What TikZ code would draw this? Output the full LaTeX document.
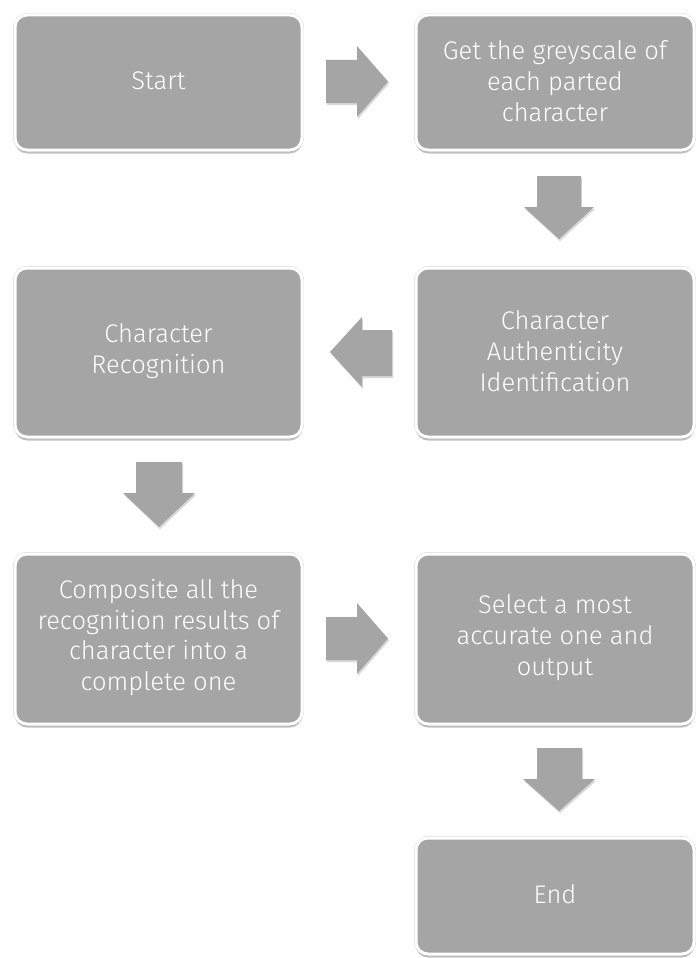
\documentclass[tikz,border=0pt]{standalone}
\usepackage{fontspec}
\setmainfont{Fira Sans Light}
\usetikzlibrary{shadows}
\definecolor{boxgray}{HTML}{A5A5A5}
\definecolor{rimgray}{HTML}{D9D9D9}
\tikzset{
  stepbox/.style={rounded corners=12pt, fill=boxgray, draw=white, line width=3pt,
    drop shadow={shadow xshift=0pt, shadow yshift=-3.5pt, opacity=0.35, fill=black!70}},
  rim/.style={rounded corners=13.5pt, draw=rimgray, line width=0.8pt},
  lbl/.style={text=white, align=center, font=\fontsize{25.5}{30.7}\selectfont},
  blockarrow/.style={fill=boxgray, draw=none,
    drop shadow={shadow xshift=1pt, shadow yshift=-2pt, opacity=0.25, fill=black!60}}
}
\newcommand{\flowbox}[6]{% name, x1, y1, x2, y2, text
  \draw[rim] (#2-1.5,#3-1.5) rectangle (#4+1.5,#5+1.5);
  \path[stepbox] (#2,#3) rectangle (#4,#5);
  \node[lbl] (#1) at ({(#2+#4)/2},{(#3+#5)/2-1.5}) {#6};
}
\begin{document}
\begin{tikzpicture}[x=1pt,y=-1pt]
\useasboundingbox (0,0) rectangle (697,958);
\fill[white] (0,0) rectangle (697,958);

\flowbox{start}{15}{15}{302}{150}{Start}
\flowbox{grey}{416}{15}{694}{150}{Get the greyscale of\\each parted\\character}
\flowbox{auth}{416}{268}{694}{437}{Character\\Authenticity\\Identification}
\flowbox{recog}{15}{268}{302}{437}{Character\\Recognition}
\flowbox{comp}{15}{554}{302}{724}{Composite all the\\recognition results of\\character into a\\complete one}
\flowbox{sel}{416}{554}{694}{724}{Select a most\\accurate one and\\output}
\flowbox{end}{416}{838}{694}{954}{End}

% right arrows
\path[blockarrow] (326,60) -- (357,60) -- (357,46) -- (388,81.5) -- (357,117) -- (357,103) -- (326,103) -- cycle;
\path[blockarrow] (326,617) -- (357,617) -- (357,603) -- (388,638.5) -- (357,674) -- (357,660) -- (326,660) -- cycle;
% left arrow
\path[blockarrow] (392,330) -- (362,330) -- (362,317) -- (330,352) -- (362,387) -- (362,376) -- (392,376) -- cycle;
% down arrows
\path[blockarrow] (537,176) -- (581,176) -- (581,207) -- (594,207) -- (559,239) -- (524,207) -- (537,207) -- cycle;
\path[blockarrow] (136,462) -- (182,462) -- (182,493) -- (195,493) -- (159,527) -- (123,493) -- (136,493) -- cycle;
\path[blockarrow] (537,748) -- (582,748) -- (582,779) -- (595,779) -- (559,811) -- (523,779) -- (537,779) -- cycle;
\end{tikzpicture}
\end{document}
